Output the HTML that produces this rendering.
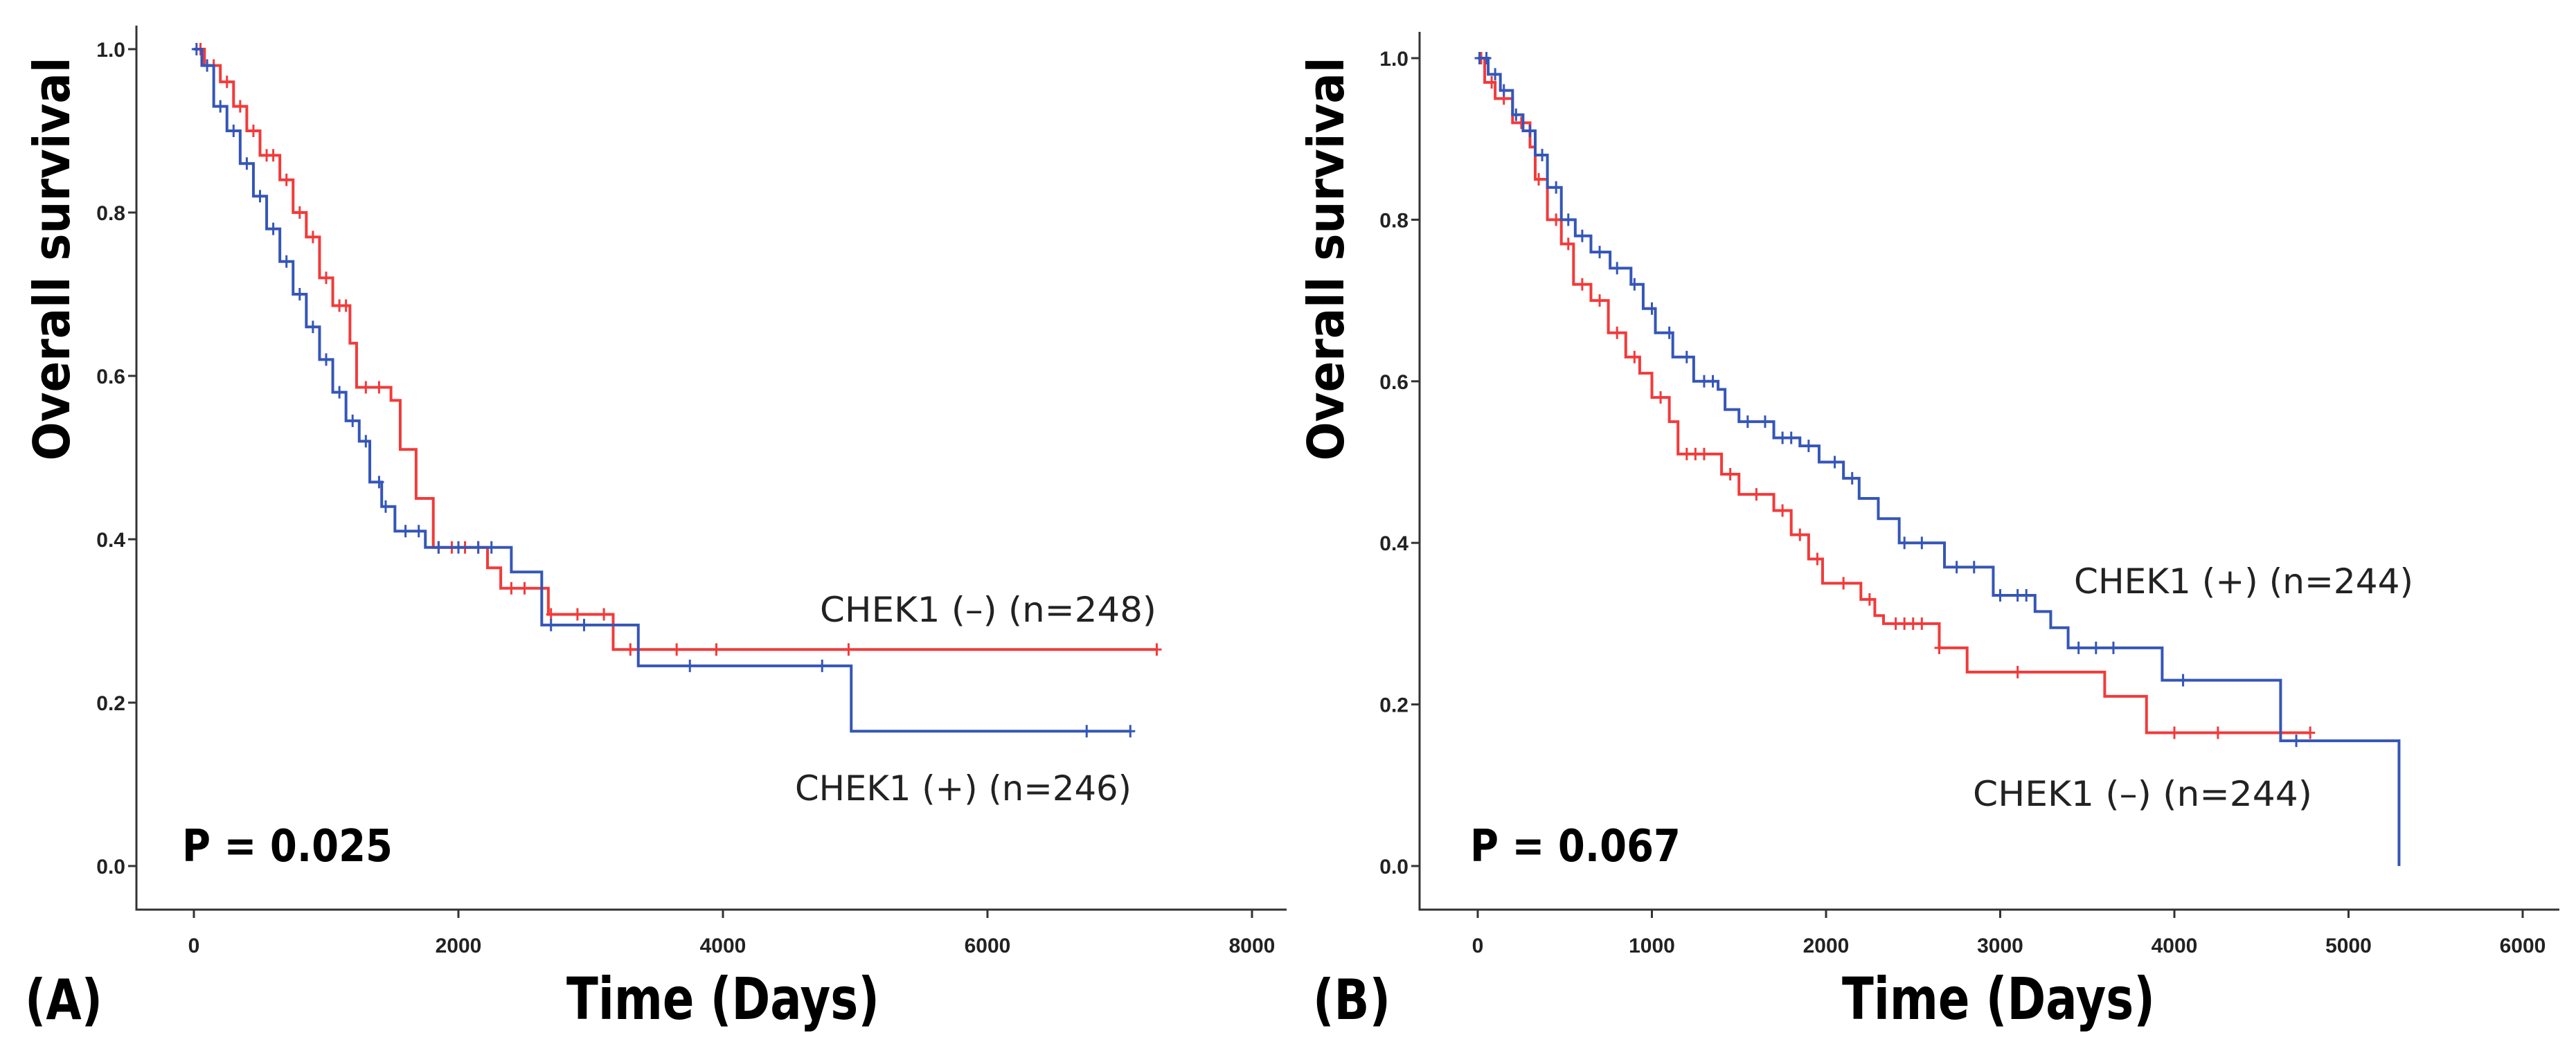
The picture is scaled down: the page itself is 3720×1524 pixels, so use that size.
<!DOCTYPE html>
<html><head><meta charset="utf-8"><style>
html,body{margin:0;padding:0;background:#fff;}
svg{display:block;}
.tick{font-family:"Liberation Sans",sans-serif;font-weight:bold;font-size:30px;fill:#222;}
.lab{font-family:"DejaVu Sans","Liberation Sans",sans-serif;font-size:50px;fill:#222;}
.big{font-family:"DejaVu Sans","Liberation Sans",sans-serif;font-weight:bold;fill:#000;}
</style></head><body>
<svg id="chart" width="3720" height="1524" viewBox="0 0 3720 1524"></svg>
<script>
// Panel A data
const aRedT=[80,200,300,400,500,650,750,850,950,1050,1180,1230,1490,1560,1680,1810,2220,2320,2680,3170];
const aRedS=[0.98,0.96,0.93,0.90,0.87,0.84,0.80,0.77,0.72,0.686,0.64,0.586,0.57,0.51,0.45,0.39,0.365,0.34,0.308,0.265];
const aRedEnd=7280;
const aRedCens=[50,150,250,350,450,550,600,700,800,900,1000,1100,1150,1300,1400,1850,1950,2050,2150,2400,2500,2700,2900,3100,3300,3650,3950,4950,7280];
const aBluT=[60,150,250,350,450,550,650,750,850,950,1050,1150,1250,1330,1420,1520,1750,2400,2630,3360,4970];
const aBluS=[0.98,0.93,0.90,0.86,0.82,0.78,0.74,0.70,0.66,0.62,0.58,0.545,0.52,0.47,0.44,0.41,0.39,0.36,0.295,0.245,0.165];
const aBluEnd=7080;
const aBluCens=[20,100,200,300,400,500,600,700,800,900,1000,1100,1200,1300,1400,1450,1600,1700,1850,2000,2150,2250,2700,2950,3750,4750,6750,7080];
// Panel B data
const bBluT=[60,130,200,260,330,400,480,560,650,760,880,950,1020,1120,1240,1380,1420,1500,1700,1850,1960,2100,2190,2300,2420,2680,2960,3200,3290,3390,3930,4610,5290];
const bBluS=[0.98,0.96,0.93,0.91,0.88,0.84,0.80,0.78,0.76,0.74,0.72,0.69,0.66,0.63,0.60,0.59,0.565,0.55,0.53,0.52,0.50,0.48,0.455,0.43,0.40,0.37,0.335,0.315,0.295,0.27,0.23,0.155,0.0];
const bBluEnd=5290;
const bBluCens=[10,50,100,150,220,300,370,450,520,600,700,800,900,1000,1100,1200,1300,1350,1550,1650,1750,1800,1900,2050,2150,2450,2550,2750,2850,3000,3100,3150,3450,3550,3650,4050,4700];
const bRedT=[40,100,200,300,330,400,480,550,650,750,850,930,1000,1100,1150,1400,1500,1700,1800,1900,1980,2200,2280,2330,2650,2810,3600,3840];
const bRedS=[0.97,0.95,0.92,0.89,0.85,0.80,0.77,0.72,0.70,0.66,0.63,0.61,0.58,0.55,0.51,0.485,0.46,0.44,0.41,0.38,0.35,0.33,0.31,0.30,0.27,0.24,0.21,0.165];
const bRedEnd=4780;
const bRedCens=[20,80,150,250,350,450,520,600,700,800,900,1050,1200,1250,1300,1450,1600,1750,1850,1950,2100,2250,2400,2450,2500,2550,2650,3100,4000,4250,4780];

const aXTicks=[0,2000,4000,6000,8000];
const bXTicks=[0,1000,2000,3000,4000,5000,6000];
const yTicks=[0.0,0.2,0.4,0.6,0.8,1.0];

const NS="http://www.w3.org/2000/svg";
const svg=document.getElementById('chart');
function mk(tag,attrs,parent,text){const e=document.createElementNS(NS,tag);for(const k in attrs)e.setAttribute(k,attrs[k]);if(text!==undefined)e.textContent=text;(parent||svg).appendChild(e);return e;}
const RED="#f23a3a",BLUE="#3556b8";

function panel(cfg){
  const g=mk('g',{});
  
  
  const X=v=>cfg.x0+v*(cfg.x1-cfg.x0)/cfg.xmax;
  const Yp=v=>cfg.y0+(1-v)*(cfg.y1-cfg.y0);
  const ax=mk('path',{d:`M${cfg.ax} ${cfg.top} V${cfg.bot} H${cfg.right}`,stroke:'#333',"stroke-width":3,fill:'none'},g);
  
  yTicks.forEach(t=>{
    const y=Yp(t);
    const l=mk('line',{x1:cfg.ax-12,x2:cfg.ax,y1:y,y2:y,stroke:'#333',"stroke-width":3},g);
    
    const tx=mk('text',{x:cfg.ax-16,y:y+11,"text-anchor":"end",class:'tick'},g,t.toFixed(1));
    
  });
  cfg.xticks.forEach(t=>{
    const x=X(t);
    const l=mk('line',{x1:x,x2:x,y1:cfg.bot,y2:cfg.bot+12,stroke:'#333',"stroke-width":3},g);
    
    const tx=mk('text',{x:x,y:cfg.bot+62,"text-anchor":"middle",class:'tick'},g,String(t));
    
  });
  function series(T,S,end,cens,color,name){
    let d=`M${X(0)} ${Yp(1)}`;
    for(let i=0;i<T.length;i++){d+=` H${X(T[i])} V${Yp(S[i])}`;}
    d+=` H${X(end)}`;
    const p=mk('path',{d:d,stroke:color,"stroke-width":4,fill:'none'},g);
    
    const sAt=t=>{let s=1;for(let i=0;i<T.length;i++){if(T[i]<=t)s=S[i];}return s;};
    cens.forEach(t=>{
      const x=X(t),y=Yp(sAt(t));
      const c=mk('path',{d:`M${x} ${y-9} V${y+9} M${x-7} ${y} H${x+7}`,stroke:color,"stroke-width":3},g);
      
    });
  }
  cfg.series.forEach(s=>series(...s));
  const yt=mk('text',{x:0,y:0,class:'big',"font-size":72,"text-anchor":"middle",textLength:583,lengthAdjust:"spacingAndGlyphs",transform:`translate(${cfg.ytx},${cfg.yty}) rotate(-90)`},g,'Overall survival');
  
  const xt=mk('text',{x:cfg.xtx,y:1472,class:'big',"font-size":84,"text-anchor":"middle",textLength:452,lengthAdjust:"spacingAndGlyphs"},g,'Time (Days)');
  
  const pl=mk('text',{x:cfg.plx,y:1472,class:'big',"font-size":80,textLength:112,lengthAdjust:"spacingAndGlyphs"},g,cfg.panelLabel);
  
  const pv=mk('text',{x:cfg.px,y:1244,class:'big',"font-size":64,textLength:304,lengthAdjust:"spacingAndGlyphs"},g,cfg.pText);
  
  cfg.labels.forEach(L=>{
    const t=mk('text',{x:L[0],y:L[1],class:'lab',"text-anchor":"end",textLength:L[3],lengthAdjust:"spacingAndGlyphs"},g,L[2]);
    
  });
}

panel({name:'panel-a',x0:280,x1:1808,xmax:8000,y0:71,y1:1251,ax:197,top:37,bot:1314,right:1858,xticks:aXTicks,
  ytx:100,yty:374,xtx:1044,plx:36,panelLabel:'(A)',px:263,pText:'P = 0.025',
  labels:[[1670,898,'CHEK1 (–) (n=248)',486],[1634,1156,'CHEK1 (+) (n=246)',486]],
  series:[[aRedT,aRedS,aRedEnd,aRedCens,RED,'chek1-neg'],[aBluT,aBluS,aBluEnd,aBluCens,BLUE,'chek1-pos']]});
panel({name:'panel-b',x0:2134,x1:3643,xmax:6000,y0:84,y1:1251,ax:2050,top:46,bot:1314,right:3696,xticks:bXTicks,
  ytx:1940,yty:374,xtx:2886,plx:1896,panelLabel:'(B)',px:2123,pText:'P = 0.067',
  labels:[[3485,857,'CHEK1 (+) (n=244)',490],[3339,1164,'CHEK1 (–) (n=244)',490]],
  series:[[bRedT,bRedS,bRedEnd,bRedCens,RED,'chek1-neg'],[bBluT,bBluS,bBluEnd,bBluCens,BLUE,'chek1-pos']]});
</script>
</body></html>
